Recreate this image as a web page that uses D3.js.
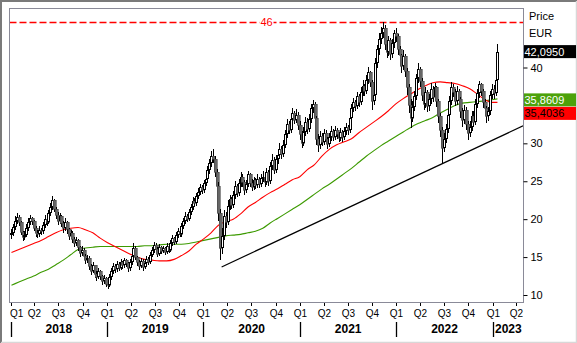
<!DOCTYPE html>
<html><head><meta charset="utf-8">
<script src="https://cdn.jsdelivr.net/npm/d3@7"></script>
<style>
html,body{margin:0;padding:0;background:#fff;}
svg{display:block;font-family:Arial,"Liberation Sans",sans-serif;}
</style></head><body>
<svg id="chart" width="577" height="343"></svg>
<script>
// ---------- DATA ----------
const firstWeek = "2018-01-01";   // Monday of first weekly bar
const firstOpen = 18.0;
const closes = [
18.2,19.0,19.8,20.3,19.6,18.3,17.6,17.9,18.8,19.6,
20.1,19.7,18.9,18.2,18.0,18.6,18.4,19.2,20.0,19.6,
20.8,21.6,22.5,21.4,20.6,19.8,20.4,19.5,18.8,19.6,
18.7,17.8,18.2,17.4,16.8,17.2,16.3,15.6,16.0,15.1,
14.6,14.9,13.8,13.2,13.9,12.8,12.4,13.1,12.5,11.8,
12.2,11.4,11.3,12.4,13.2,13.8,13.4,14.1,13.6,14.3,
13.9,14.6,14.2,13.5,14.4,15.1,16.2,15.0,14.3,13.8,
14.5,13.7,14.2,14.8,14.4,15.3,15.9,16.6,16.1,15.4,
16.3,15.8,16.2,15.7,16.4,16.0,16.8,17.5,17.0,17.9,
18.4,18.0,19.1,19.8,20.4,20.0,21.0,21.6,22.4,22.1,
23.0,23.6,24.2,23.8,24.8,25.3,26.5,27.4,28.3,28.0,
26.2,24.4,20.8,16.2,17.8,20.4,19.6,21.8,22.6,21.9,
23.2,24.4,23.5,24.8,25.6,24.9,23.8,24.6,25.9,24.8,
24.2,25.1,24.5,25.3,24.6,25.4,25.6,24.9,26.2,25.0,
27.0,27.8,26.5,27.9,28.4,29.3,28.6,29.8,31.2,32.5,
31.8,33.2,34.0,33.1,33.8,32.4,31.2,30.1,31.5,32.8,
31.9,33.2,34.6,35.2,33.4,30.6,29.8,31.0,30.2,31.4,
30.6,29.9,30.8,31.6,30.9,31.8,31.2,30.7,31.5,30.8,
31.6,32.2,31.7,33.4,34.6,35.5,34.9,36.2,35.4,36.8,
37.6,36.9,38.4,39.4,38.1,35.6,36.4,40.6,42.4,43.8,
44.6,45.2,43.1,42.0,43.6,41.8,43.2,44.5,44.2,42.4,
41.6,40.2,41.5,39.6,37.4,35.1,33.4,34.8,36.2,38.6,
39.8,38.2,36.4,35.2,36.8,34.9,35.8,37.2,36.1,37.4,
35.6,33.6,31.8,29.4,30.6,31.9,33.8,35.6,37.4,36.8,
35.6,36.9,35.8,34.2,33.1,34.4,32.6,31.4,32.2,33.6,
32.8,35.2,36.6,37.8,36.9,35.4,34.6,33.6,34.2,36.4,
37.2,36.6,38.4,42.095
];
const highs = [
18.7,19.4,20.4,20.8,20.5,19.8,18.5,18.4,19.3,20.2,
20.6,20.3,19.9,19.1,18.6,19.1,18.9,19.6,20.5,20.3,
21.2,22.1,23.0,22.7,21.6,20.9,20.8,20.5,19.7,20.1,
19.8,18.9,18.6,18.4,17.6,17.6,17.4,16.5,16.4,16.2,
15.4,15.3,15.1,14.1,14.3,14.0,13.1,13.5,13.3,12.7,
12.6,12.4,11.8,12.8,13.6,14.2,14.1,14.5,14.3,14.7,
14.5,14.9,14.8,14.4,14.8,15.5,16.9,16.4,15.2,14.6,
14.9,14.7,14.6,15.2,15.0,15.7,16.3,17.0,16.8,16.3,
16.7,16.5,16.5,16.3,16.8,16.6,17.2,17.9,17.7,18.3,
18.8,18.6,19.5,20.2,20.9,20.7,21.4,22.0,22.9,22.8,
23.4,24.1,24.7,24.5,25.2,25.8,27.0,27.9,29.0,29.3,
28.3,26.6,24.9,21.3,18.9,21.2,21.0,22.5,23.2,22.9,
23.7,25.0,24.6,25.3,26.2,25.9,25.1,25.2,26.4,26.1,
25.3,25.6,25.4,25.9,25.5,25.9,26.4,25.9,26.8,26.5,
27.6,28.6,28.2,28.5,29.2,30.0,29.6,30.4,31.8,33.2,
33.0,33.8,34.7,34.3,34.5,34.1,32.9,31.6,32.2,33.5,
33.3,33.9,35.2,35.7,35.4,33.6,31.2,31.6,31.4,31.9,
31.7,30.9,31.4,32.3,31.9,32.3,32.0,31.5,32.0,31.7,
32.1,32.7,32.4,33.9,35.2,36.0,35.7,36.8,36.5,37.4,
38.3,37.8,39.0,40.1,39.6,38.4,37.1,41.2,43.0,44.6,
45.3,46.0,45.6,43.6,44.2,43.9,43.8,45.0,45.2,44.4,
42.9,41.8,42.3,41.8,40.0,37.8,35.9,35.6,36.9,39.2,
40.6,40.1,38.6,36.8,37.4,37.0,36.5,37.9,37.6,38.0,
37.6,35.9,34.0,32.1,31.4,32.6,34.4,36.2,38.1,37.8,
37.1,37.6,37.2,36.1,34.6,35.0,34.8,32.9,32.9,34.2,
34.2,35.8,37.2,38.2,38.0,37.1,35.8,34.9,34.8,36.9,
37.8,37.7,39.0,43.1
];
const lows = [
17.4,17.8,18.6,19.3,19.1,17.9,17.1,17.2,17.6,18.4,
19.2,19.2,18.4,17.7,17.5,17.7,17.9,18.0,18.8,19.1,
19.3,20.4,21.2,20.9,20.0,19.2,19.4,19.0,18.2,18.5,
18.1,17.2,17.4,16.9,16.3,16.4,15.8,15.0,15.2,14.6,
14.1,14.2,13.3,12.6,12.9,12.3,11.9,12.1,12.0,11.3,
11.4,11.0,10.8,11.0,12.0,12.8,12.9,13.0,13.1,13.3,
13.4,13.6,13.7,13.0,13.2,14.0,14.8,14.6,13.8,13.3,
13.5,13.2,13.4,13.9,14.0,14.1,15.0,15.5,15.7,15.0,
15.1,15.4,15.5,15.3,15.4,15.6,15.7,16.5,16.6,16.7,
17.5,17.6,17.7,18.7,19.4,19.6,19.7,20.6,21.2,21.6,
21.8,22.6,23.2,23.3,23.5,24.4,24.9,26.0,26.9,27.4,
25.6,23.7,19.8,14.6,15.4,17.3,18.8,19.2,21.2,21.3,
21.5,22.7,22.9,23.1,24.3,24.3,23.2,23.4,24.2,24.2,
23.7,23.9,24.0,24.1,24.1,24.2,24.9,24.3,24.5,24.4,
24.7,26.5,25.9,26.1,27.3,27.9,28.0,28.2,29.4,30.7,
31.2,31.4,32.7,32.5,32.7,31.8,30.5,29.4,29.7,31.0,
31.2,31.5,32.7,34.0,32.8,29.8,28.9,29.3,29.6,29.8,
30.0,29.3,29.5,30.3,30.3,30.5,30.6,30.2,30.3,30.2,
30.4,31.1,31.1,31.3,32.9,34.1,34.3,34.5,34.8,35.0,
36.2,36.3,36.5,37.8,37.4,34.4,35.0,36.0,40.0,41.7,
43.1,43.9,42.3,41.2,41.5,41.0,41.3,42.6,43.4,41.6,
40.8,39.3,39.7,38.7,36.4,34.0,32.0,32.8,34.2,35.7,
38.0,37.4,35.6,34.4,34.7,34.1,34.3,35.2,35.4,35.6,
34.8,32.7,30.8,27.4,28.8,30.1,31.4,33.2,35.0,36.1,
34.9,35.1,35.1,33.4,32.2,32.6,31.8,30.4,30.9,31.6,
32.1,32.4,34.6,36.0,36.2,34.7,33.9,32.7,33.0,33.8,
35.8,35.9,36.2,38.0
];
// moving averages, read every 4th week (last point = last week)
const maStep = 4;
const maRed = [
15.6,16.0,16.4,16.8,17.2,17.7,18.2,18.6,18.8,18.9,
18.6,18.2,17.5,16.9,16.4,15.9,15.4,15.0,14.7,14.6,
14.5,14.5,14.7,15.2,15.8,16.7,17.4,18.2,19.2,19.7,
20.0,20.7,21.6,22.2,22.9,23.5,24.0,24.6,25.2,25.6,
26.5,27.2,28.3,29.2,29.8,30.2,30.6,31.4,32.1,32.8,
33.5,34.3,35.2,35.9,36.5,37.1,37.6,38.0,38.1,38.0,
37.9,37.6,37.2,36.5,35.8,35.4
];
const maGreen = [
11.3,11.7,12.1,12.5,13.0,13.4,14.0,14.6,15.3,16.0,
16.2,16.3,16.4,16.4,16.4,16.4,16.4,16.4,16.5,16.5,
16.6,16.7,16.7,16.7,16.8,17.0,17.2,17.4,17.6,17.8,
17.9,18.0,18.2,18.4,18.8,19.5,20.1,20.7,21.3,21.9,
22.6,23.3,24.0,24.6,25.3,26.0,26.7,27.5,28.3,29.0,
29.7,30.3,30.9,31.5,32.1,32.6,33.0,33.4,34.0,34.5,
35.0,35.3,35.4,35.5,35.6,35.75
];
const maRedLast = 35.4036;
const maGreenLast = 35.8609;
const lastClose = 42.0950;
const trendDates = ["2020-03-10","2023-04-26"];
const trendValues = [13.7, 32.3];
const resistance = 46;
const yTicks = [10,15,20,25,30,40];
const years = [2018,2019,2020,2021,2022,2023];
const quarterNames = ["Q1","Q2","Q3","Q4"];
const axisTitle = ["Price","EUR"];

// ---------- LAYOUT ----------
const W = 577, H = 343;
const plot = {l:9.5, t:8.5, r:523.5, b:302.5};
const parse = d3.utcParse("%Y-%m-%d");
const x = d3.scaleUtc().domain([parse("2018-01-01"), parse("2023-01-01")]).range([10.7, 492.7]);
const y = d3.scaleLinear().domain([10, 46]).range([295, 22]);

const svg = d3.select("#chart");
// outer border
svg.append("rect").attr("x",0).attr("y",0).attr("width",W).attr("height",H).attr("fill","#fff");
svg.append("path").attr("d",`M1,${H} V1 H${W}`).attr("fill","none").attr("stroke","#7a7a7a").attr("stroke-width",2);
svg.append("path").attr("d",`M${W-0.5},1 V${H-0.5} H1`).attr("fill","none").attr("stroke","#d8d8d8").attr("stroke-width",1.5);

svg.append("defs").append("clipPath").attr("id","clip").append("rect")
  .attr("x",plot.l+0.5).attr("y",plot.t+0.5).attr("width",plot.r-plot.l-1).attr("height",plot.b-plot.t-1);

const start = parse(firstWeek);
const data = closes.map((c,i)=>({
  date: d3.utcDay.offset(start, 7*i+3),
  open: i===0 ? firstOpen : closes[i-1],
  close: c, high: highs[i], low: lows[i]
}));

const g = svg.append("g").attr("clip-path","url(#clip)");

// resistance
g.append("line").attr("x1",plot.l).attr("x2",plot.r)
  .attr("y1",Math.round(y(resistance))+0.5).attr("y2",Math.round(y(resistance))+0.5)
  .attr("stroke","#ff0000").attr("stroke-width",1.5).attr("stroke-dasharray","7,3");

// trend line
g.append("path").datum(trendDates.map((d,i)=>({date:parse(d), v:trendValues[i]})))
  .attr("d", d3.line().x(d=>x(d.date)).y(d=>y(d.v)))
  .attr("fill","none").attr("stroke","#000").attr("stroke-width",1.2);

// moving averages
function maPoints(arr, last){
  const pts = arr.map((v,k)=>({i:k*maStep, v}));
  pts.push({i:closes.length-1, v:last});
  return pts;
}
const maLine = d3.line().x(d=>x(data[d.i].date)).y(d=>y(d.v)).curve(d3.curveMonotoneX);
g.append("path").datum(maPoints(maGreen, maGreenLast)).attr("d",maLine)
  .attr("fill","none").attr("stroke","#3c9a00").attr("stroke-width",1.1);
g.append("path").datum(maPoints(maRed, maRedLast)).attr("d",maLine)
  .attr("fill","none").attr("stroke","#ff0000").attr("stroke-width",1.1);

// candles
const cg = g.append("g").attr("shape-rendering","crispEdges");
const candle = cg.selectAll("g.c").data(data).join("g").attr("class","c");
const isUp = d => d.close >= d.open;
candle.append("line")
  .attr("x1",d=>Math.round(x(d.date))+0.5).attr("x2",d=>Math.round(x(d.date))+0.5)
  .attr("y1",d=>Math.round(y(d.high))).attr("y2",d=>Math.round(y(d.low)))
  .attr("stroke","#000").attr("stroke-width",1);
candle.append("rect")
  .attr("x",d=> isUp(d) ? Math.round(x(d.date))-0.5 : Math.round(x(d.date))-1)
  .attr("y",d=>{const t=Math.round(y(Math.max(d.open,d.close))); return isUp(d)? t+0.5 : t;})
  .attr("width",d=> isUp(d) ? 2 : 3)
  .attr("height",d=>{const t=Math.round(y(Math.max(d.open,d.close))), b=Math.round(y(Math.min(d.open,d.close)));
     return isUp(d) ? Math.max(b-t-1,0.5) : Math.max(b-t,1);})
  .attr("fill",d=> isUp(d) ? "#fff" : "#666")
  .attr("stroke",d=> isUp(d) ? "#000" : "#444")
  .attr("stroke-width",d=> isUp(d) ? 1.4 : 0.6);

// resistance label
const ry = Math.round(y(resistance));
const rxc = (plot.l+plot.r)/2;
svg.append("rect").attr("x",rxc-7).attr("y",ry-5).attr("width",14).attr("height",10).attr("fill","#fff");
svg.append("text").attr("x",rxc).attr("y",ry+4).attr("text-anchor","middle")
  .attr("font-size",11).attr("fill","#ff0000").text(resistance);

// frame
svg.append("rect").attr("x",plot.l).attr("y",plot.t).attr("width",plot.r-plot.l).attr("height",plot.b-plot.t)
  .attr("fill","none").attr("stroke","#8a8a98").attr("stroke-width",1);

// y axis
const yAxis = d3.axisRight(y).tickValues(yTicks).tickSize(4).tickPadding(3).tickFormat(d3.format("d"));
const ya = svg.append("g").attr("transform",`translate(${plot.r},0)`).call(yAxis);
ya.select(".domain").remove();
ya.selectAll("text").attr("font-size",11).attr("font-family","Arial, Liberation Sans, sans-serif").attr("fill","#000");
ya.selectAll("line").attr("stroke","#000");

// axis title
axisTitle.forEach((t,i)=>{
  svg.append("text").attr("x",529).attr("y",20+i*16.5).attr("font-size",11).attr("fill","#000").text(t);
});

// value boxes
const fmt = v => d3.format(".4f")(v).replace(".", ",");
const boxes = [
  {v:lastClose, bg:"#000", fg:"#fff", y:y(lastClose)-6.5},
  {v:maGreenLast, bg:"#4ca20a", fg:"#fff", y:y(maGreenLast)-5.5},
];
boxes.push({v:maRedLast, bg:"#ff0000", fg:"#000", y:boxes[1].y+13.5});
boxes.forEach(b=>{
  svg.append("rect").attr("x",524).attr("y",b.y).attr("width",52).attr("height",13).attr("fill",b.bg);
  svg.append("text").attr("x",524.5).attr("y",b.y+10.5).attr("font-size",11).attr("fill",b.fg).text(fmt(b.v));
});

// x axis: quarters
const qDates = d3.utcMonth.every(3).range(parse("2018-01-01"), parse("2023-06-01"));
const xa = svg.append("g");
qDates.forEach(d=>{
  const px = Math.round(x(d))+0.5;
  if (px > plot.r) return;
  xa.append("line").attr("x1",px).attr("x2",px).attr("y1",plot.b+0.5).attr("y2",plot.b+3.5)
    .attr("stroke","#000").attr("shape-rendering","crispEdges");
  const t = xa.append("text").attr("y",317).attr("font-size",10).attr("fill","#000")
    .text(quarterNames[d.getUTCMonth()/3]);
  const w = t.node().getComputedTextLength();
  let cx = px;
  if (cx - w/2 < plot.l + 0.5) cx = plot.l + 0.5 + w/2;
  if (cx + w/2 > plot.r) cx = plot.r - w/2;
  t.attr("x",cx).attr("text-anchor","middle");
});
// years
years.forEach(yr=>{
  const x0 = x(parse(yr+"-01-01")), x1 = x(parse((yr+1)+"-01-01"));
  const px = Math.round(x0)+0.5;
  xa.append("line").attr("x1",px).attr("x2",px).attr("y1",322).attr("y2",337)
    .attr("stroke","#000").attr("stroke-width",1.3);
  const t = xa.append("text").attr("y",333).attr("font-size",12).attr("font-weight","bold").attr("fill","#000").text(yr);
  const w = t.node().getComputedTextLength();
  let cx = (x0+x1)/2;
  if (cx + w/2 > plot.r - 1) cx = px + 1.5 + w/2;
  t.attr("x",cx).attr("text-anchor","middle");
});
</script>
</body></html>
